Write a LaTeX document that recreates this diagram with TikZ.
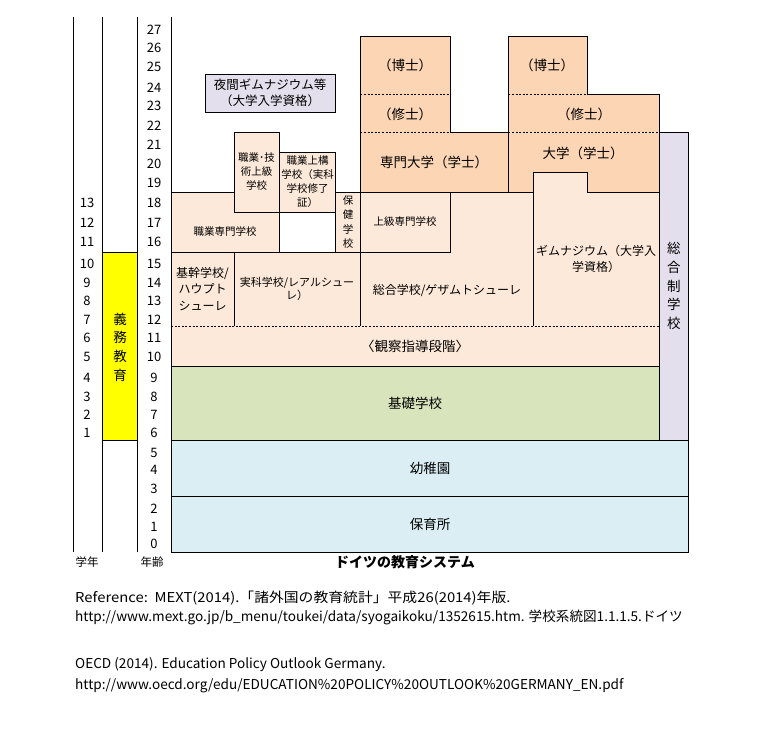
\documentclass[tikz,border=0pt]{standalone}
\usepackage{fontspec}
\setmainfont{Noto Sans CJK JP}
\definecolor{cblue}{HTML}{DAEEF3}
\definecolor{cgreen}{HTML}{D8E4BC}
\definecolor{clp}{HTML}{FDE9D9}
\definecolor{cdp}{HTML}{FCD5B4}
\definecolor{clav}{HTML}{E4DFEC}
\definecolor{cyel}{HTML}{FFFF00}
\begin{document}
\begin{tikzpicture}[x=1pt,y=-1pt,
  every node/.style={inner sep=0pt, align=center},
  big/.style={font=\fontsize{13.5}{17}\selectfont},
  mid/.style={font=\fontsize{12}{16.5}\selectfont},
  sml/.style={font=\fontsize{10.5}{14}\selectfont},
  num/.style={font=\fontsize{13}{15}\selectfont},
  vert/.style={font=\fontsize{13.5}{18.7}\selectfont},
  ln/.style={line width=0.8pt, draw=black},
  dsh/.style={line width=0.8pt, draw=black, dash pattern=on 2pt off 1.6pt},
  reftxt/.style={anchor=west, font=\fontsize{13.6}{15}\selectfont}]
\useasboundingbox[fill=white] (0,0) rectangle (761,735);

% ---------- fills ----------
\fill[cblue] (171,496.5) rectangle (688.3,552);
\fill[cblue] (171,440.5) rectangle (688.3,496.5);
\fill[cgreen] (171,366.5) rectangle (659.3,440.5);
\fill[clav] (659.3,132.3) rectangle (688.3,440.5);
\fill[clp] (171,326) rectangle (659.3,366.5);
\fill[clp] (171,252.3) rectangle (234,326);
\fill[clp] (234,252.3) rectangle (360.3,326);
\fill[clp] (360.3,326) -- (533.3,326) -- (533.3,192.3) -- (450,192.3) -- (450,252.3) -- (360.3,252.3) -- cycle;
\fill[clp] (533.3,326) -- (659.3,326) -- (659.3,192.3) -- (587.7,192.3) -- (587.7,172.3) -- (533.3,172.3) -- cycle;
\fill[clp] (171,192.3) rectangle (279.3,252.3);
\fill[clp] (234,132.3) rectangle (279.3,212.3);
\fill[clp] (279.3,152.3) rectangle (335.7,212.3);
\fill[clp] (335.7,192.3) rectangle (360.3,252.3);
\fill[clp] (360.3,192.3) rectangle (450,252.3);
\fill[cdp] (360.3,36) rectangle (450,132.3);
\fill[cdp] (360.3,132.3) rectangle (508.3,192.3);
\fill[cdp] (508.3,36) rectangle (587.7,94);
\fill[cdp] (508.3,94) rectangle (659.3,132.3);
\fill[cdp] (508.3,132.3) -- (659.3,132.3) -- (659.3,192.3) -- (587.7,192.3) -- (587.7,172.3) -- (533.3,172.3) -- (533.3,192.3) -- (508.3,192.3) -- cycle;
\fill[cyel] (102.7,252.3) rectangle (137.7,440.5);
\fill[clav] (205.3,74) rectangle (335.3,112);

% ---------- solid lines ----------
\draw[ln] (73,17) -- (73,552);
\draw[ln] (102.7,17) -- (102.7,552);
\draw[ln] (137.7,17) -- (137.7,552);
\draw[ln] (171,17) -- (171,552) -- (688.3,552) -- (688.3,132.3) -- (659.3,132.3) -- (659.3,94) -- (587.7,94) -- (587.7,36) -- (508.3,36) -- (508.3,192.3);
\draw[ln] (659.3,132.3) -- (659.3,440.5);
\draw[ln] (171,496.5) -- (688.3,496.5);
\draw[ln] (171,440.5) -- (688.3,440.5);
\draw[ln] (171,366.5) -- (659.3,366.5);
\draw[ln] (102.7,252.3) rectangle (137.7,440.5);
\draw[ln] (171,252.3) -- (450,252.3);
\draw[ln] (234,252.3) -- (234,326);
\draw[ln] (360.3,252.3) -- (360.3,326);
\draw[ln] (533.3,192.3) -- (533.3,326);
\draw[ln] (171,192.3) -- (234,192.3);
\draw[ln] (234,132.3) rectangle (279.3,212.3);
\draw[ln] (279.3,152.3) rectangle (335.7,212.3);
\draw[ln] (279.3,212.3) rectangle (335.7,252.3);
\draw[ln] (335.7,192.3) rectangle (360.3,252.3);
\draw[ln] (360.3,192.3) rectangle (450,252.3);
\draw[ln] (360.3,192.3) -- (360.3,36) -- (450,36) -- (450,132.3) -- (508.3,132.3);
\draw[ln] (360.3,192.3) -- (533.3,192.3) -- (533.3,172.3) -- (587.7,172.3) -- (587.7,192.3) -- (659.3,192.3);
\draw[ln] (205.3,74) rectangle (335.3,112);

% ---------- dashed lines ----------
\draw[dsh] (360.3,94) -- (450,94);
\draw[dsh] (360.3,132.3) -- (450,132.3);
\draw[dsh] (508.3,94) -- (587.7,94);
\draw[dsh] (508.3,132.3) -- (659.3,132.3);
\draw[dsh] (171,326) -- (659.3,326);

% ---------- axis labels ----------
\foreach \a/\yy in {27/30,26/48.3,25/67.3,24/87.3,23/106,22/126,21/145,20/164,19/183.3,18/203.3,17/222.7,16/241.7,15/263.7,14/282.7,13/301.3,12/320,11/338.3,10/357.3,9/377.7,8/396.7,7/415,6/432.7,5/452.7,4/470,3/489.3,2/508.3,1/526.7,0/543.7}
  \node[num] (age\a) at (154,\yy) {\a};
\foreach \g/\yy in {13/203.3,12/222.7,11/241.7,10/263.7,9/282.7,8/301.3,7/320,6/338.3,5/357.3,4/377.7,3/396.7,2/415,1/432.7}
  \node[num] (gr\g) at (87,\yy) {\g};
\node[font=\fontsize{11.5}{14}\selectfont] (gakunen) at (87,562) {学年};
\node[font=\fontsize{11.5}{14}\selectfont] (nenrei) at (152,562) {年齢};
\node[font=\bfseries\fontsize{14}{16}\selectfont] (title) at (405,562) {ドイツの教育システム};
\node[vert] (gimu) at (120.2,347) {義\\務\\教\\育};

% ---------- block labels ----------
\node[big] (hoiku) at (430,524) {保育所};
\node[big] (yochi) at (430,468.5) {幼稚園};
\node[big] (kiso) at (415,403.5) {基礎学校};
\node[big] (kansatsu) at (415,346.5) {〈観察指導段階〉};
\node[vert] (sogosei) at (673.8,286) {総\\合\\制\\学\\校};
\node[mid] (kikan) at (202.5,289) {基幹学校/\\ハウプト\\シューレ};
\node[font=\fontsize{11}{13.5}\selectfont] (jikka) at (297,289) {実科学校/レアルシュー\\レ）};
\node[mid] (sogo) at (447,291) {総合学校/ゲザムトシューレ};
\node[mid] (gym) at (596,259) {ギムナジウム（大学入\\学資格）};
\node[sml] (shokusen) at (225,232) {職業専門学校};
\node[sml] (shokugi) at (256.6,172) {職業･技\\術上級\\学校};
\node[sml] (shokujo) at (307.5,181.5) {職業上構\\学校（実科\\学校修了\\証）};
\node[font=\fontsize{10.5}{14.2}\selectfont] (hoken) at (348,222) {保\\健\\学\\校};
\node[sml] (jokyu) at (405,222) {上級専門学校};
\node[big] (senmon) at (434,162.7) {専門大学（学士）};
\node[big] (daigaku) at (583,153) {大学（学士）};
\node[big] (hakase1) at (405,65.7) {（博士）};
\node[big] (shushi1) at (405,114) {（修士）};
\node[big] (hakase2) at (547,65.7) {（博士）};
\node[big] (shushi2) at (584,114) {（修士）};
\node[font=\fontsize{12.5}{16.5}\selectfont] (yakan) at (270,93) {夜間ギムナジウム等\\（大学入学資格）};

% ---------- references ----------
\node[reftxt] (ref1) at (75,598) {\scalebox{1.09}[1]{Reference:\ \ MEXT(2014).「諸外国の教育統計」平成26(2014)年版.}};
\node[reftxt] (ref2) at (75,617) {http://www.mext.go.jp/b\_menu/toukei/data/syogaikoku/1352615.htm. 学校系統図1.1.1.5.ドイツ};
\node[reftxt] (ref3) at (75,665) {OECD (2014). Education Policy Outlook Germany.};
\node[reftxt] (ref4) at (75,686) {http://www.oecd.org/edu/EDUCATION\%20POLICY\%20OUTLOOK\%20GERMANY\_EN.pdf};
\end{tikzpicture}
\end{document}
